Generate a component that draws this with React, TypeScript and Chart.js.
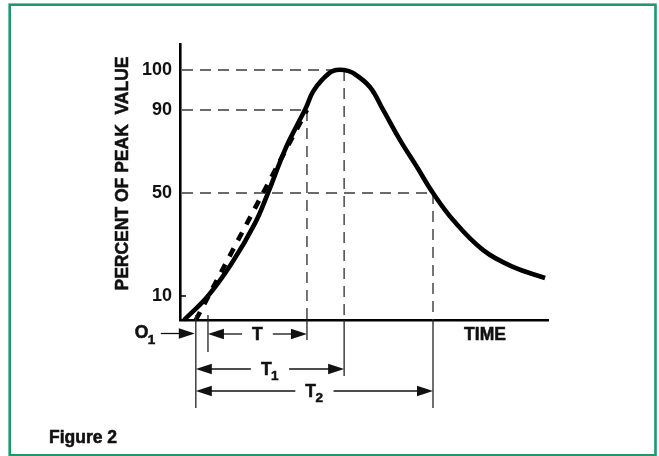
import React, { useEffect, useRef } from 'react';
import { Chart, registerables, LinearScale } from 'chart.js';

Chart.register(...registerables);

// ---- data ----
const TIME = [1.1, 7.6, 14.1, 20.4, 23.9, 28.5, 32.1, 34.2, 36.1, 38.6, 41.6, 44.6, 47.0, 51.6, 55.2, 59.8, 64.4, 68.75, 74.2, 82.3, 90.5, 99.2];
const RESPONSE = [0, 10, 22.8, 38.3, 50, 70.7, 83.7, 90.5, 94.5, 97.5, 99.75, 100, 99.25, 95.75, 90, 75.5, 62.5, 50, 39.5, 27.9, 21.3, 17];
const TANGENT_TIME = [4.3, 34.5];
const TANGENT_RESPONSE = [0, 90];
const Y_TICKS = [10, 50, 90, 100];
const X_MAX = 100;
const Y_MAX = 106.5;
// schematic (non-linear) vertical axis: value knots and their relative heights
const Y_KNOT_VALUES = [0, 10, 50, 90, 100, 106.5];
const Y_KNOT_POSITIONS = [0, 0.087, 0.46, 0.761, 0.906, 1];
// characteristic times
const T_O1 = 4.3;
const T_10 = 7.6;
const T_90 = 34.5;
const T_PEAK = 44.6;
const T_50 = 68.75;

const FONT = '"Liberation Sans", Arial, Helvetica, sans-serif';
const TEXT = '#111';

function interp(v: number, xs: number[], ys: number[]): number {
  const n = xs.length;
  let i = 1;
  while (i < n - 1 && v > xs[i]) i++;
  const a = xs[i - 1];
  const b = xs[i];
  return ys[i - 1] + ((v - a) * (ys[i] - ys[i - 1])) / (b - a);
}

class PeakPercentScale extends LinearScale {
  static id = 'peakPercent';
  static defaults = {};
  getPixelForValue(value: number) {
    return this.getPixelForDecimal(interp(value, Y_KNOT_VALUES, Y_KNOT_POSITIONS));
  }
  getValueForPixel(pixel: number) {
    return interp(this.getDecimalForPixel(pixel), Y_KNOT_POSITIONS, Y_KNOT_VALUES);
  }
}
Chart.register(PeakPercentScale as any);

function arrowHead(ctx: CanvasRenderingContext2D, tipX: number, y: number, dir: number) {
  const len = 16;
  const half = 5.2;
  ctx.beginPath();
  ctx.moveTo(tipX, y);
  ctx.lineTo(tipX - dir * len, y - half);
  ctx.lineTo(tipX - dir * len, y + half);
  ctx.closePath();
  ctx.fill();
}

function hLine(ctx: CanvasRenderingContext2D, x1: number, x2: number, y: number) {
  ctx.beginPath();
  ctx.moveTo(x1, y);
  ctx.lineTo(x2, y);
  ctx.stroke();
}

function vLine(ctx: CanvasRenderingContext2D, x: number, y1: number, y2: number) {
  ctx.beginPath();
  ctx.moveTo(x, y1);
  ctx.lineTo(x, y2);
  ctx.stroke();
}

function heavyText(ctx: CanvasRenderingContext2D, s: string, x: number, y: number) {
  ctx.fillText(s, x, y);
  ctx.save();
  ctx.lineWidth = 0.55;
  ctx.strokeStyle = ctx.fillStyle as string;
  ctx.setLineDash([]);
  ctx.strokeText(s, x, y);
  ctx.restore();
}

function labelWidth(ctx: CanvasRenderingContext2D, main: string, sub: string) {
  ctx.font = `bold 17.5px ${FONT}`;
  const w1 = ctx.measureText(main).width;
  ctx.font = `bold 13.5px ${FONT}`;
  const w2 = sub ? ctx.measureText(sub).width : 0;
  return w1 + w2;
}

function drawLabel(ctx: CanvasRenderingContext2D, main: string, sub: string, left: number, y: number) {
  ctx.textAlign = 'left';
  ctx.textBaseline = 'alphabetic';
  ctx.font = `bold 17.5px ${FONT}`;
  heavyText(ctx, main, left, y + 5.5);
  const w1 = ctx.measureText(main).width;
  if (sub) {
    ctx.font = `bold 13.5px ${FONT}`;
    heavyText(ctx, sub, left + w1 - 0.5, y + 11);
  }
}

function dimension(ctx: CanvasRenderingContext2D, x1: number, x2: number, y: number, main: string, sub: string) {
  const w = labelWidth(ctx, main, sub);
  const c = (x1 + x2) / 2;
  const gap = 10;
  hLine(ctx, x1 + 4, c - w / 2 - gap, y);
  hLine(ctx, c + w / 2 + gap, x2 - 4, y);
  arrowHead(ctx, x1, y, -1);
  arrowHead(ctx, x2, y, 1);
  drawLabel(ctx, main, sub, c - w / 2, y);
}

const figurePlugin = {
  id: 'figureAnnotations',
  beforeDatasetsDraw(chart: any) {
    const ctx: CanvasRenderingContext2D = chart.ctx;
    const xs = chart.scales.x;
    const ys = chart.scales.y;
    const px = (t: number) => xs.getPixelForValue(t);
    const py = (v: number) => ys.getPixelForValue(v);
    const x0 = px(0);
    ctx.save();
    ctx.strokeStyle = '#3a3a3a';
    ctx.lineWidth = 1.4;
    ctx.setLineDash([11, 7]);
    hLine(ctx, x0 + 2, px(T_PEAK), py(100));
    hLine(ctx, x0 + 2, px(T_90), py(90));
    hLine(ctx, x0 + 2, px(T_50), py(50));
    vLine(ctx, px(T_90), py(90), py(0));
    vLine(ctx, px(T_PEAK), py(100), py(0));
    vLine(ctx, px(T_50), py(50), py(0));
    ctx.setLineDash([]);
    ctx.strokeStyle = '#000';
    ctx.lineWidth = 1.5;
    hLine(ctx, x0, x0 + 6, py(10));
    ctx.restore();
  },
  afterDraw(chart: any) {
    const ctx: CanvasRenderingContext2D = chart.ctx;
    const xs = chart.scales.x;
    const ys = chart.scales.y;
    const px = (t: number) => xs.getPixelForValue(t);
    const py = (v: number) => ys.getPixelForValue(v);
    const axisY = py(0);
    ctx.save();

    // frame
    ctx.strokeStyle = '#1f996b';
    ctx.lineWidth = 2.6;
    ctx.strokeRect(9.7, 4.7, 645.8, 450.6);

    // extension lines below the time axis
    ctx.strokeStyle = '#222';
    ctx.lineWidth = 1.3;
    vLine(ctx, px(T_O1), axisY - 5, axisY + 88);
    vLine(ctx, px(T_10), axisY - 5, axisY + 32);
    vLine(ctx, px(T_90), axisY, axisY + 20);
    vLine(ctx, px(T_PEAK), axisY, axisY + 56);
    vLine(ctx, px(T_50), axisY, axisY + 88);

    // arrows
    ctx.fillStyle = TEXT;
    ctx.strokeStyle = TEXT;
    ctx.lineWidth = 1.3;
    const o1 = px(T_O1);
    const yO = axisY + 13.5;
    hLine(ctx, o1 - 35, o1 - 4, yO);
    arrowHead(ctx, o1 - 1, yO, 1);
    const wO = labelWidth(ctx, 'O', '1');
    drawLabel(ctx, 'O', '1', o1 - 40 - wO, yO - 1);

    dimension(ctx, px(T_10), px(T_90), axisY + 14, 'T', '');
    dimension(ctx, px(T_O1), px(T_PEAK), axisY + 49, 'T', '1');
    dimension(ctx, px(T_O1), px(T_50), axisY + 71, 'T', '2');

    // texts
    ctx.font = `bold 17.5px ${FONT}`;
    ctx.textAlign = 'center';
    ctx.textBaseline = 'alphabetic';
    heavyText(ctx, 'TIME', 485, axisY + 20);
    ctx.textAlign = 'left';
    heavyText(ctx, 'Figure 2', 49, 443);

    ctx.translate(122, 173.5);
    ctx.rotate(-Math.PI / 2);
    ctx.textAlign = 'center';
    heavyText(ctx, 'PERCENT OF PEAK  VALUE', 0, 6.2);
    ctx.restore();
  },
};

export default function App() {
  const ref = useRef<HTMLCanvasElement | null>(null);
  useEffect(() => {
    const canvas = ref.current;
    if (!canvas) return;
    const chart = new Chart(canvas, {
      type: 'line',
      data: {
        datasets: [
          {
            label: 'Response',
            data: TIME.map((t, i) => ({ x: t, y: RESPONSE[i] })),
            borderColor: '#000',
            borderWidth: 4.6,
            pointRadius: 0,
            tension: 0.4,
            fill: false,
            clip: false,
            borderCapStyle: 'butt',
            borderJoinStyle: 'round',
          },
          {
            label: 'Tangent',
            data: TANGENT_TIME.map((t, i) => ({ x: t, y: TANGENT_RESPONSE[i] })),
            borderColor: '#000',
            borderWidth: 4.6,
            borderDash: [9, 9],
            pointRadius: 0,
            tension: 0,
            fill: false,
            clip: false,
          },
        ],
      } as any,
      options: {
        animation: false,
        responsive: false,
        events: [],
        layout: { padding: { left: 0, top: 44, right: 111, bottom: 136 } },
        plugins: { legend: { display: false }, tooltip: { enabled: false } },
        scales: {
          x: {
            type: 'linear',
            min: 0,
            max: X_MAX,
            grid: { display: false, drawTicks: false },
            ticks: { display: false },
            border: { display: true, color: '#000', width: 2.6 },
            afterFit: (s: any) => {
              s.height = 0;
            },
          },
          y: {
            type: 'peakPercent',
            min: 0,
            max: Y_MAX,
            grid: { display: false, drawTicks: false },
            border: { display: true, color: '#000', width: 2.6 },
            ticks: {
              padding: 8,
              color: TEXT,
              font: { family: FONT, size: 18, weight: 'bold' },
              callback: (v: any) => String(v),
            },
            afterBuildTicks: (s: any) => {
              s.ticks = Y_TICKS.map((v) => ({ value: v }));
            },
            afterFit: (s: any) => {
              s.width = 180;
            },
          },
        } as any,
      },
      plugins: [figurePlugin],
    } as any);
    return () => chart.destroy();
  }, []);
  return (
    <div style={{ position: 'absolute', left: 0, top: 0, width: 659, height: 456, background: '#fff' }}>
      <canvas ref={ref} width={659} height={456} style={{ display: 'block' }} />
    </div>
  );
}
